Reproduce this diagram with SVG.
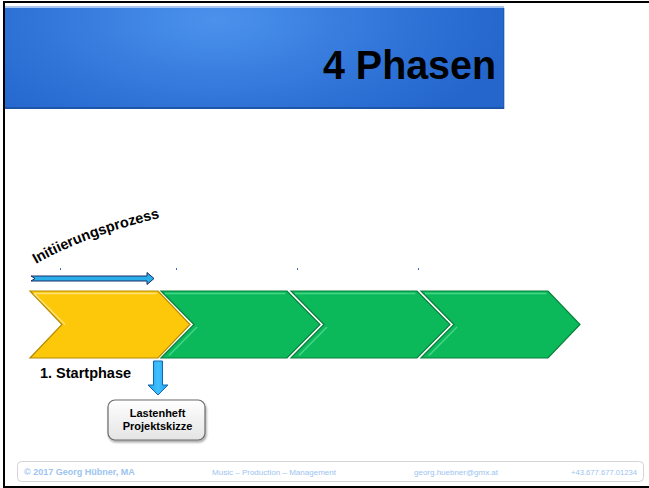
<svg xmlns="http://www.w3.org/2000/svg" width="649" height="488" viewBox="0 0 649 488">
<defs>
<radialGradient id="hdr" cx="215" cy="20" r="300" gradientUnits="userSpaceOnUse" gradientTransform="translate(215 20) scale(1 0.45) translate(-215 -20)">
<stop offset="0" stop-color="#4b92ec"/>
<stop offset="0.6" stop-color="#3175d9"/>
<stop offset="1" stop-color="#2466cc"/>
</radialGradient>
<linearGradient id="box" x1="0" y1="0" x2="0" y2="1">
<stop offset="0" stop-color="#ffffff"/>
<stop offset="1" stop-color="#e4e4e4"/>
</linearGradient>
<linearGradient id="dn" x1="0" y1="0" x2="1" y2="0">
<stop offset="0" stop-color="#1aa0e8"/>
<stop offset="0.5" stop-color="#40c0ff"/>
<stop offset="1" stop-color="#1aa0e8"/>
</linearGradient>
<filter id="sh" x="-10%" y="-10%" width="130%" height="140%">
<feDropShadow dx="1" dy="2" stdDeviation="1.2" flood-color="#000" flood-opacity="0.35"/>
</filter>
<path id="arc" d="M36,264 Q88,234 172,215"/>
</defs>
<style>
.b{font-family:"Liberation Sans",Arial,sans-serif;font-weight:bold;}
.n{font-family:"Liberation Sans",Arial,sans-serif;}
.yel{fill:#fec80a;stroke:#b58a00;stroke-width:1.2;}
.grn{fill:#0bb85a;stroke:#08803c;stroke-width:1.2;}
.yhl{fill:none;stroke:#ffe27a;stroke-width:1.5;}
.ghl{fill:none;stroke:#44d688;stroke-width:1.5;}
.ft{fill:#9cc4ef;}
</style>
<rect width="649" height="488" fill="#ffffff"/>
<g id="frame" fill="none" stroke="#000" stroke-width="2">
<path d="M649,2 H4 V487 H649"/>
</g>
<g id="header">
<rect x="5" y="6" width="499" height="3" fill="#a9c6ef"/>
<rect x="5" y="8" width="499" height="101" fill="url(#hdr)"/>
<rect x="5" y="107" width="499" height="2" fill="#1d55a8"/>
<rect x="503" y="8" width="1.5" height="101" fill="#1d55a8" opacity="0.6"/>
<text class="b" x="496" y="79" font-size="40" text-anchor="end" textLength="173" lengthAdjust="spacingAndGlyphs" fill="#000">4 Phasen</text>
</g>
<g id="init-label">
<text class="b" font-size="14.5" fill="#000"><textPath href="#arc">Initiierungsprozess</textPath></text>
</g>
<g id="ticks" fill="#3a6ad0">
<rect x="60" y="268" width="1" height="2"/>
<rect x="176" y="268" width="1" height="2"/>
<rect x="297" y="268" width="1" height="2"/>
<rect x="418" y="268" width="1" height="2"/>
</g>
<g id="connectors">
<polygon points="31,276 147,276 147,272.5 154,278.5 147,284.5 147,281 31,281 35,278.5" fill="#2aaee9" stroke="#1a2c66" stroke-width="1"/>
<polygon points="153.5,361 162.5,361 162.5,385 168,385 158,395 148,385 153.5,385" fill="url(#dn)" stroke="#1466b0" stroke-width="1"/>
</g>
<g id="phase1">
<polygon class="yel" points="30,291 158,291 190,324.5 158,358 30,358 62,324.5"/>
<polyline class="yhl" points="34,293.5 156.5,293.5"/>
<polyline class="yhl" points="34,293.5 65,324.5"/>
</g>
<g id="phase2">
<polygon class="grn" points="161,291 287,291 320,324.5 287,358 161,358 194,324.5"/>
<polyline class="ghl" points="165,293.5 285.5,293.5"/>
<polyline class="ghl" points="197,327 169,355.5"/>
</g>
<g id="phase3">
<polygon class="grn" points="291,291 417,291 450,324.5 417,358 291,358 324,324.5"/>
<polyline class="ghl" points="295,293.5 415.5,293.5"/>
<polyline class="ghl" points="327,327 299,355.5"/>
</g>
<g id="phase4">
<polygon class="grn" points="421,291 548,291 580,324.5 548,358 421,358 454,324.5"/>
<polyline class="ghl" points="425,293.5 546.5,293.5"/>
<polyline class="ghl" points="457,327 429,355.5"/>
</g>
<g id="startphase-label">
<text class="b" x="40" y="378" font-size="14.5" fill="#000">1. Startphase</text>
</g>
<g id="deliverable">
<rect x="108" y="400" width="97" height="40" rx="7" fill="url(#box)" stroke="#6a6a6a" stroke-width="1.2" filter="url(#sh)"/>
<text class="b" x="157.5" y="416.5" font-size="11" text-anchor="middle" fill="#000">Lastenheft</text>
<text class="b" x="157.5" y="429.5" font-size="11" text-anchor="middle" fill="#000">Projektskizze</text>
</g>
<g id="footer">
<rect x="17.5" y="461.5" width="626" height="20" rx="4" fill="#ffffff" stroke="#d4d4d4" stroke-width="1"/>
<text class="b ft" x="24" y="475" font-size="9">© 2017 Georg Hübner, MA</text>
<text class="n ft" x="212" y="475" font-size="8" textLength="124" lengthAdjust="spacingAndGlyphs">Music – Production – Management</text>
<text class="n ft" x="414" y="475" font-size="8" textLength="84" lengthAdjust="spacingAndGlyphs">georg.huebner@gmx.at</text>
<text class="n ft" x="571" y="475" font-size="8" textLength="66" lengthAdjust="spacingAndGlyphs">+43.677.677.01234</text>
</g>
</svg>
